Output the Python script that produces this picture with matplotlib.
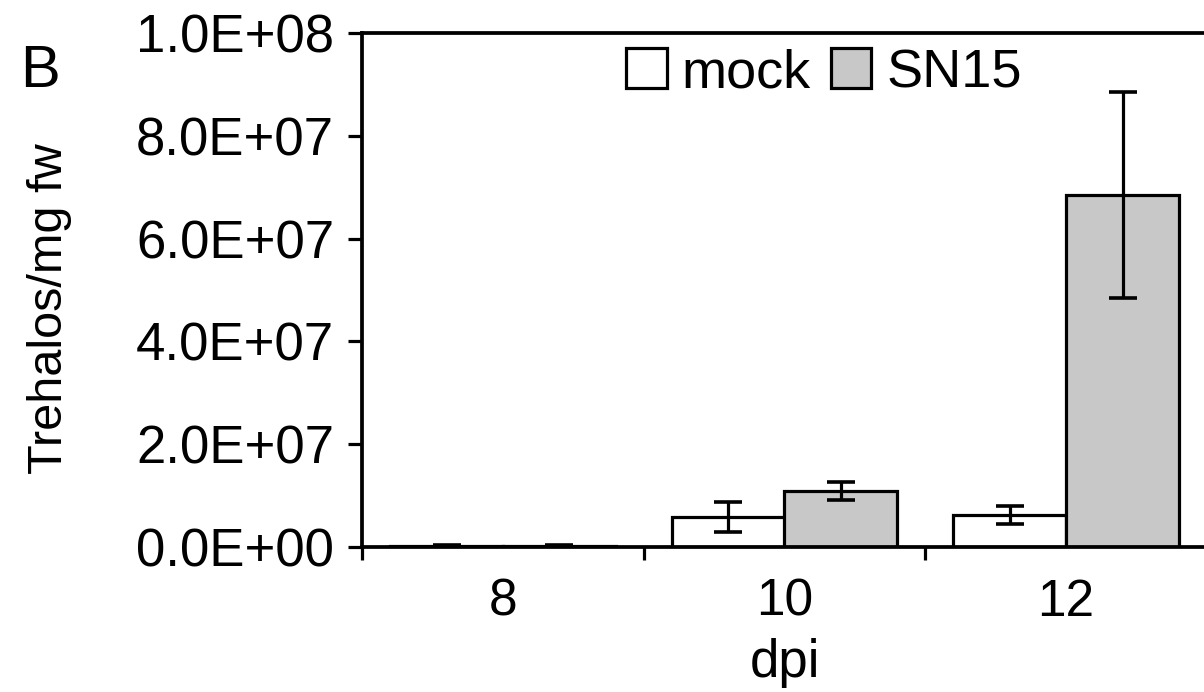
import numpy as np
import matplotlib
matplotlib.use('Agg')
import matplotlib.pyplot as plt
from matplotlib.patches import Patch

plt.rcParams['font.family'] = ['Liberation Sans', 'DejaVu Sans']

# data
days = ['8', '10', '12']
mock = [1.0e5, 5.9e6, 6.2e6]
mock_err = [2.0e5, 2.9e6, 1.7e6]
sn15 = [1.0e5, 1.09e7, 6.85e7]
sn15_err = [2.0e5, 1.7e6, 2.0e7]
yticks = [0, 2e7, 4e7, 6e7, 8e7, 1e8]
ytick_labels = ['0.0E+00', '2.0E+07', '4.0E+07', '6.0E+07', '8.0E+07', '1.0E+08']

fig = plt.figure(figsize=(12.04, 6.92), dpi=100)
ax = fig.add_axes([362 / 1204, 1 - 547 / 692, 845 / 1204, 514 / 692])

x = np.arange(len(days))
w = 0.4
lw = 2.3
ax.bar(x - w / 2, mock, w, color='white', edgecolor='black', linewidth=lw, zorder=2)
ax.bar(x + w / 2, sn15, w, color='#c8c8c8', edgecolor='black', linewidth=lw, zorder=2)
ax.errorbar(x - w / 2, mock, yerr=mock_err, fmt='none', ecolor='black',
            elinewidth=lw, capsize=10, capthick=lw + 0.3, zorder=3)
ax.errorbar(x + w / 2, sn15, yerr=sn15_err, fmt='none', ecolor='black',
            elinewidth=lw, capsize=10, capthick=lw + 0.3, zorder=3)

ax.set_xlim(-0.5, 2.5)
ax.set_ylim(0, 1e8)

# spines
for s in ax.spines.values():
    s.set_linewidth(2.7)
ax.spines['right'].set_visible(False)

ax.set_yticks(yticks)
ax.set_yticklabels(ytick_labels)
ax.tick_params(axis='y', direction='out', length=10, width=lw, labelsize=38, pad=10)

ax.set_xticks(x)
ax.set_xticklabels(days)
ax.tick_params(axis='x', which='major', length=0, labelsize=37, pad=22)
ax.set_xticks([-0.5, 0.5, 1.5], minor=True)
ax.tick_params(axis='x', which='minor', direction='out', length=9, width=lw)

ax.set_xlabel('dpi', fontsize=38, labelpad=8)
ax.set_ylabel('Trehalos/mg fw', fontsize=35)
ax.yaxis.set_label_coords(-0.343, 0.463)

handles = [Patch(facecolor='white', edgecolor='black', linewidth=lw, label='mock'),
           Patch(facecolor='#c8c8c8', edgecolor='black', linewidth=lw, label='SN15')]
fig.legend(handles=handles, loc='center', bbox_to_anchor=(824 / 1204, 1 - 73 / 692),
           ncol=2, frameon=False, fontsize=39, handlelength=0.74, handleheight=0.74,
           handletextpad=0.28, columnspacing=0.37)

fig.text(0.033, 0.897, 'B', fontsize=43, ha='center', va='center')

fig.savefig('out.png', dpi=100)
